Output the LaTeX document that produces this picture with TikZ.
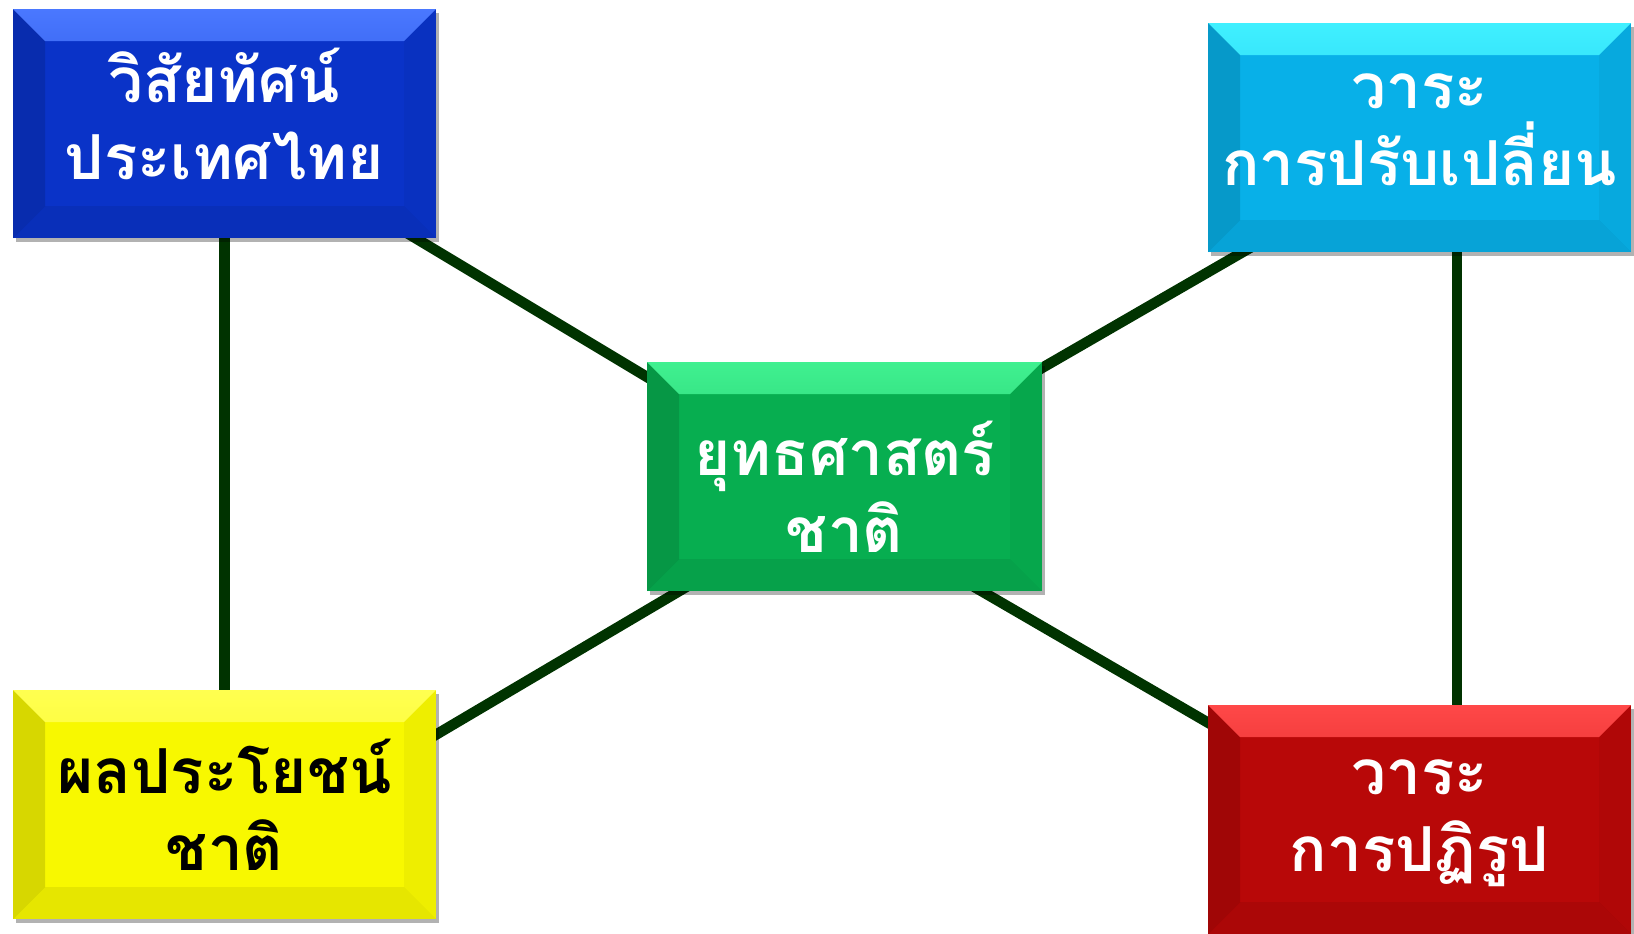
\documentclass[tikz,border=0pt]{standalone}
\usepackage{fontspec}
\newfontfamily\thaifont[Script=Thai]{Loma}
\usetikzlibrary{shadows}
\definecolor{linkgreen}{HTML}{003300}
\definecolor{visionblue}{HTML}{0A33C8}
\definecolor{visionlight}{HTML}{4A78FF}
\definecolor{dutycyan}{HTML}{08B0E8}
\definecolor{dutylight}{HTML}{40F0FF}
\definecolor{stratgreen}{HTML}{07AE50}
\definecolor{stratlight}{HTML}{40F090}
\definecolor{benefityellow}{HTML}{F8F800}
\definecolor{benefitlight}{HTML}{FFFF50}
\definecolor{reformred}{HTML}{B80808}
\definecolor{reformlight}{HTML}{FF4848}
\pgfdeclarelayer{background}
\pgfsetlayers{background,main}
\tikzset{
  bevelbox/.style 2 args={fill=#1, inner sep=0pt, minimum width=211.5pt, minimum height=114.5pt,
    align=center, text=white, font=\thaifont\bfseries\fontsize{31}{38.5}\selectfont,
    text height=52pt, text depth=0pt,
    drop shadow={shadow xshift=1.5pt, shadow yshift=-2pt, opacity=0.3, fill=black},
    path picture={
      \shade[top color=#2, bottom color=#1]
        (path picture bounding box.north west) -- (path picture bounding box.north east)
        -- ([xshift=-16pt,yshift=-16pt]path picture bounding box.north east)
        -- ([xshift=16pt,yshift=-16pt]path picture bounding box.north west) -- cycle;
      \fill[black, opacity=0.13]
        (path picture bounding box.north west) -- ([xshift=16pt,yshift=-16pt]path picture bounding box.north west)
        -- ([xshift=16pt,yshift=16pt]path picture bounding box.south west)
        -- (path picture bounding box.south west) -- cycle;
      \fill[black, opacity=0.04]
        (path picture bounding box.north east) -- ([xshift=-16pt,yshift=-16pt]path picture bounding box.north east)
        -- ([xshift=-16pt,yshift=16pt]path picture bounding box.south east)
        -- (path picture bounding box.south east) -- cycle;
      \fill[black, opacity=0.07]
        (path picture bounding box.south west) -- ([xshift=16pt,yshift=16pt]path picture bounding box.south west)
        -- ([xshift=-16pt,yshift=16pt]path picture bounding box.south east)
        -- (path picture bounding box.south east) -- cycle;
    }},
  link/.style={line width=5.25pt, draw=linkgreen}
}
\begin{document}
\begin{tikzpicture}[x=0.5pt, y=-0.5pt]
    \useasboundingbox (0,0) rectangle (1634,933);
    \node[bevelbox={visionblue}{visionlight}, text height=56pt] (vision) at (224.5,123.5) {วิสัยทัศน์\\ประเทศไทย};
    \node[bevelbox={dutycyan}{dutylight}, text height=48pt] (duty) at (1419.5,137.5) {วาระ\\การปรับเปลี่ยน};
    \node[bevelbox={stratgreen}{stratlight}, minimum width=197.5pt, text height=76pt] (strategy) at (844.5,476.5) {ยุทธศาสตร์\\ชาติ};
    \node[bevelbox={benefityellow}{benefitlight}, text=black, text height=66pt] (benefit) at (224.5,804.5) {ผลประโยชน์\\ชาติ};
    \node[bevelbox={reformred}{reformlight}] (reform) at (1419.5,819.5) {วาระ\\การปฏิรูป};

    \begin{pgfonlayer}{background}
    \draw[link] (vision.center) -- (benefit.center);
    \draw[link] ([xshift=18.75pt]duty.center) -- ([xshift=18.75pt]reform.center);
    \draw[link] (vision.center) -- ([yshift=-9.5pt]strategy.center);
    \draw[link] ([yshift=-6.25pt]duty.center) -- ([yshift=-2.75pt]strategy.center);
    \draw[link] ([yshift=-27.5pt]benefit.center) -- ([yshift=-8.5pt]strategy.center);
    \draw[link] ([yshift=-13pt]reform.center) -- ([yshift=-17.5pt]strategy.center);
    \end{pgfonlayer}
\end{tikzpicture}
\end{document}
